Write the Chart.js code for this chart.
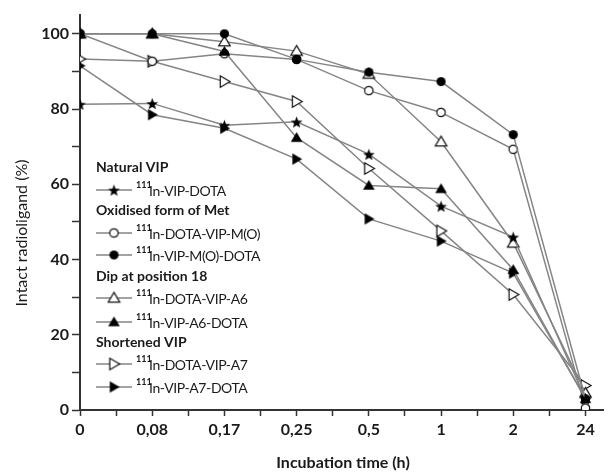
<!DOCTYPE html>
<html>
<head>
<meta charset="utf-8">
<script src="https://cdn.jsdelivr.net/npm/chart.js@4.4.1/dist/chart.umd.min.js"></script>
<style>
  html, body { margin: 0; padding: 0; background: #fff; }
  #wrap { width: 611px; height: 476px; }
</style>
</head>
<body>
<div id="wrap"><canvas id="Graph"></canvas></div>
<script>
// x categories (incubation time, h)
var timeLabels = ['0', '0,08', '0,17', '0,25', '0,5', '1', '2', '24'];

// intact radioligand (%) per compound
var vipDota    = [81.3, 81.5, 75.7, 76.6, 68.0, 54.2, 46.0, 3.0];
var dotaVipMO  = [100, 92.7, 94.7, 93.2, 84.9, 79.1, 69.3, 0.5];
var vipMODota  = [100, 100, 100, 93.2, 89.8, 87.3, 73.2, 3.0];
var dotaVipA6  = [100, 100, 97.9, 95.4, 89.3, 71.3, 44.4, 4.5];
var vipA6Dota  = [100, 100, 95.3, 72.4, 59.7, 58.8, 37.3, 3.0];
var dotaVipA7  = [93.3, 92.7, 87.3, 82.0, 64.2, 47.6, 30.7, 6.5];
var vipA7Dota  = [91.5, 78.5, 74.9, 66.7, 50.8, 44.9, 36.4, 3.0];

// legend groups
var groupTitles = ['Natural VIP', 'Oxidised form of Met', 'Dip at position 18', 'Shortened VIP'];
var seriesNames = ['In-VIP-DOTA', 'In-DOTA-VIP-M(O)', 'In-VIP-M(O)-DOTA', 'In-DOTA-VIP-A6',
                   'In-VIP-A6-DOTA', 'In-DOTA-VIP-A7', 'In-VIP-A7-DOTA'];
var isotope = '111';

var LINE = '#858585';

// marker images, drawn once and reused for the chart and the legend
function makeMarker(kind, filled) {
  var c = document.createElement('canvas');
  c.width = 15; c.height = 15;
  var g = c.getContext('2d');
  var cx = 7.5, cy = 7.5;
  g.beginPath();
  if (kind === 'star') {
    for (var i = 0; i < 10; i++) {
      var r = i % 2 ? 2.6 : 6.2;
      var a = -Math.PI / 2 + i * Math.PI / 5;
      g.lineTo(cx + r * Math.cos(a), cy + 0.8 + r * Math.sin(a));
    }
  } else if (kind === 'circle') {
    g.arc(cx, cy, filled ? 4.6 : 4.2, 0, Math.PI * 2);
  } else if (kind === 'triUp') {
    g.moveTo(cx, cy - 5.6); g.lineTo(cx + 5.8, cy + 4.2); g.lineTo(cx - 5.8, cy + 4.2);
  } else if (kind === 'triRight') {
    g.moveTo(cx + 5.6, cy); g.lineTo(cx - 4.2, cy - 5.8); g.lineTo(cx - 4.2, cy + 5.8);
  }
  g.closePath();
  if (filled) {
    g.fillStyle = '#000'; g.fill();
  } else {
    g.fillStyle = '#fff'; g.fill();
    g.lineWidth = 1.2; g.strokeStyle = '#111'; g.stroke();
  }
  return c;
}

var markers = [
  makeMarker('star', true),
  makeMarker('circle', false),
  makeMarker('circle', true),
  makeMarker('triUp', false),
  makeMarker('triUp', true),
  makeMarker('triRight', false),
  makeMarker('triRight', true)
];
var allSeries = [vipDota, dotaVipMO, vipMODota, dotaVipA6, vipA6Dota, dotaVipA7, vipA7Dota];
var drawOrder = [1, 2, 1, 2, 1, 2, 1];

function toPoints(arr) {
  return arr.map(function (v, i) { return { x: i, y: v }; });
}

var datasets = allSeries.map(function (arr, i) {
  return {
    label: seriesNames[i],
    data: toPoints(arr),
    borderColor: LINE,
    borderWidth: 1.5,
    pointStyle: markers[i],
    pointRadius: 6,
    order: drawOrder[i],
    tension: 0
  };
});

// legend rows: [type, index, y]
var legendRows = [
  ['h', 0, 167], ['s', 0, 190],
  ['h', 1, 210], ['s', 1, 233], ['s', 2, 255],
  ['h', 2, 276], ['s', 3, 298], ['s', 4, 322],
  ['h', 3, 342], ['s', 5, 364], ['s', 6, 387]
];

var textPlugin = {
  id: 'textPlugin',
  afterDraw: function (chart) {
    var ctx = chart.ctx;
    ctx.save();
    ctx.fillStyle = '#1a1a1a';
    ctx.textBaseline = 'middle';
    legendRows.forEach(function (row) {
      var y = row[2];
      ctx.letterSpacing = '0px';
      if (row[0] === 'h') {
        ctx.font = 'bold 14px Lato';
        ctx.textAlign = 'left';
        ctx.fillText(groupTitles[row[1]], 96, y);
      } else {
        ctx.strokeStyle = LINE;
        ctx.lineWidth = 1.5;
        ctx.beginPath();
        ctx.moveTo(96, y); ctx.lineTo(132, y);
        ctx.stroke();
        var m = markers[row[1]];
        ctx.drawImage(m, 114 - m.width / 2, y - m.height / 2);
        ctx.textAlign = 'left';
        ctx.font = 'bold 9px Lato';
        ctx.fillText(isotope, 136, y - 5);
        ctx.font = '14px Lato';
        ctx.letterSpacing = '-0.4px';
        ctx.fillText(seriesNames[row[1]], 149, y + 1);
      }
    });
    ctx.letterSpacing = '0px';
    // axis titles
    ctx.font = 'bold 16px Lato';
    ctx.textAlign = 'center';
    ctx.fillText('Incubation time (h)', 343, 463);
    ctx.translate(22, 233);
    ctx.rotate(-Math.PI / 2);
    ctx.font = '16px Lato';
    ctx.fillText('Intact radioligand (%)', 0, 0);
    ctx.restore();
  }
};

var tickFont = { family: 'Lato', size: 16, weight: 'bold' };

var chart = new Chart(document.getElementById('Graph').getContext('2d'), {
  type: 'line',
  data: { datasets: datasets },
  options: {
    responsive: true,
    maintainAspectRatio: false,
    animation: false,
    layout: { padding: { top: 15, right: 6, left: 0, bottom: 0 } },
    plugins: { legend: { display: false }, tooltip: { enabled: false } },
    scales: {
      x: {
        type: 'linear',
        min: 0,
        max: 7.25,
        afterFit: function (s) { s.height = 66; },
        border: { color: '#333', width: 2 },
        grid: { drawOnChartArea: false, drawTicks: true, tickLength: 6, tickColor: '#333', tickWidth: 1.5 },
        ticks: {
          stepSize: 0.5,
          includeBounds: false,
          autoSkip: false,
          maxRotation: 0,
          color: '#1a1a1a',
          font: tickFont,
          padding: 4,
          callback: function (v) { return Number.isInteger(v) ? timeLabels[v] : ''; }
        }
      },
      y: {
        min: 0,
        max: 105,
        afterFit: function (s) { s.width = 80; },
        border: { color: '#333', width: 2 },
        grid: { drawOnChartArea: false, drawTicks: true, tickLength: 8, tickColor: '#333', tickWidth: 1.5 },
        ticks: {
          stepSize: 10,
          includeBounds: false,
          color: '#1a1a1a',
          font: tickFont,
          padding: 3,
          callback: function (v) { return v % 20 === 0 ? v : ''; }
        }
      }
    }
  },
  plugins: [textPlugin]
});
</script>
</body>
</html>
